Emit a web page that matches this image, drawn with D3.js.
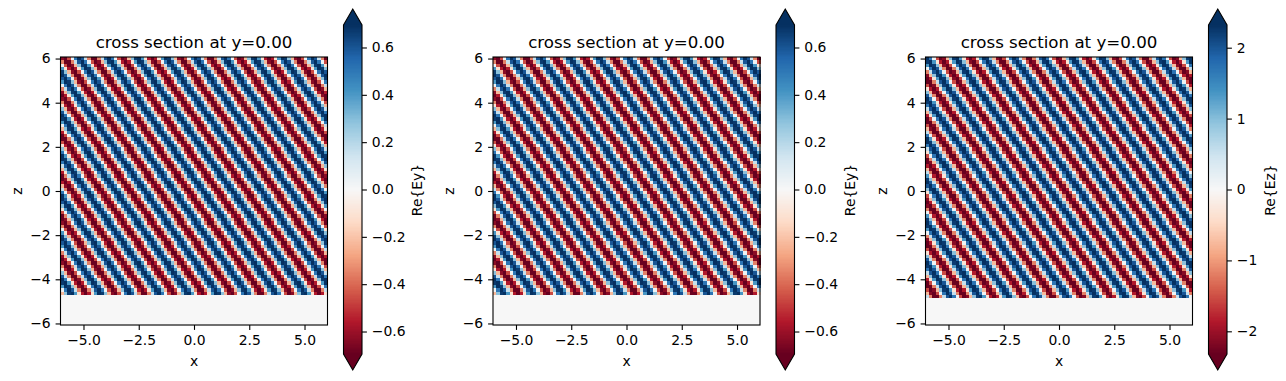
<!DOCTYPE html>
<html>
<head>
<meta charset="utf-8">
<script src="https://cdn.jsdelivr.net/npm/d3@7"></script>
<style>
  html,body{margin:0;background:#fff;}
  svg{display:block;}
  text{font-family:"DejaVu Sans",sans-serif;fill:#000;}
</style>
</head>
<body>
<div class="canvas"></div>
<script>
// values
const xTicks=[-5,-2.5,0,2.5,5];
const zTicks=[-6,-4,-2,0,2,4,6];
const eyTicks=[-0.6,-0.4,-0.2,0,0.2,0.4,0.6];
const ezTicks=[-2,-1,0,1,2];
const eyLimit=0.695;
const ezLimit=2.32;

// field across one red+blue stripe pair, crests run a bit past the colorbar limits
const eyCycle=[-0.74,-0.73,-0.69,-0.63,-0.56,-0.46,-0.35,-0.23,-0.10,0.03,0.16,0.29,0.41,0.51,0.60,0.67,0.71,0.74,0.74,0.71,0.67,0.60,0.51,0.41,0.29,0.16,0.03,-0.10,-0.23,-0.35,-0.46,-0.56,-0.63,-0.69,-0.73];
const ezCycle=[-2.47,-2.43,-2.31,-2.12,-1.86,-1.54,-1.17,-0.76,-0.33,0.11,0.55,0.97,1.36,1.71,2.00,2.23,2.38,2.46,2.46,2.38,2.23,2.00,1.71,1.36,0.97,0.55,0.11,-0.33,-0.76,-1.17,-1.54,-1.86,-2.12,-2.31,-2.43];

// where each row starts in the cycle, top row first
const eyShift=[3,6,9,12,15,18,21,23,26,29,32,35,38,41,43,46,49,52,55,58,61,63,66,69,72,75,78,81,83,86,89,92,95,98,101,103,106,109,112,115,118,121,123,126,129,132,135,138,141,143,146,149,152,155,158,161,163,166,169,172,175,178,181,183,186,189,192,195,198,201,203];
const ezShift=[17,20,23,26,29,32,35,37,40,43,46,49,52,55,57,60,63,66,69,72,75,77,80,83,86,89,92,95,97,100,103,106,109,112,115,117,120,123,126,129,132,135,137,140,143,146,149,152,155,157,160,163,166,169,172,175,177,180,183,186,189,192,195,197,200,203,206,209,212,215,217,220];

const rdbuStops=['#67001f','#b2182b','#d6604d','#f4a582','#fddbc7','#f7f7f7','#d1e5f0','#92c5de','#4393c3','#2166ac','#053061'];

const panelLefts=[60.5,493,925.5];
const panelNames=['Re{Ey}','Re{Ey}','Re{Ez}'];
const panelLimits=[eyLimit,eyLimit,ezLimit];
const panelCycles=[eyCycle,eyCycle,ezCycle];
const panelShifts=[eyShift,eyShift,ezShift];
const panelTicks=[eyTicks,eyTicks,ezTicks];

const plotW=267,plotTop=57,plotH=268;
const cbarGap=283,cbarW=18.5,cbarTop=25,cbarBottom=354,tip=16;
const labelGaps=[356.5,357,344.5];
const nCols=80,nRows=80;

const svg=d3.select('.canvas').append('svg')
  .attr('width',1286)
  .attr('height',381);

const colorAt=(limit)=>d3.scaleLinear()
  .domain(rdbuStops.map((c,i)=>-limit+2*limit*i/10))
  .range(rdbuStops)
  .clamp(true);

panelLefts.forEach((left,p)=>{
  const g=svg.append('g');
  const limit=panelLimits[p];
  const color=colorAt(limit);
  const cycle=panelCycles[p];
  const shift=panelShifts[p];

  const x=d3.scaleLinear().domain([-6.04,6.04]).range([left,left+plotW]);
  const z=d3.scaleLinear().domain([6.07,-6.07]).range([plotTop,plotTop+plotH]);
  const colBand=d3.scaleBand().domain(d3.range(nCols)).range([left,left+plotW]);
  const rowBand=d3.scaleBand().domain(d3.range(nRows)).range([plotTop,plotTop+plotH]);

  //cells, rows past the end of the shift list are the empty (zero) part
  const cells=[];
  d3.range(nRows).forEach(r=>{
    d3.range(nCols).forEach(c=>{
      const v=r<shift.length ? cycle[((4*c-shift[r])%35+35)%35] : 0;
      cells.push({r,c,v});
    });
  });
  g.append('g').attr('shape-rendering','crispEdges')
    .selectAll('rect').data(cells).join('rect')
    .attr('x',d=>colBand(d.c))
    .attr('y',d=>rowBand(d.r))
    .attr('width',colBand.bandwidth()+0.5)
    .attr('height',rowBand.bandwidth()+0.5)
    .attr('fill',d=>color(d.v));

  //frame
  g.append('rect')
    .attr('x',left).attr('y',plotTop)
    .attr('width',plotW).attr('height',plotH)
    .attr('fill','none').attr('stroke','#000').attr('stroke-width',1.1);

  //axes
  const xAxis=d3.axisBottom(x).tickValues(xTicks).tickFormat(d3.format('.1f')).tickSize(4.9).tickPadding(4.9);
  const zAxis=d3.axisLeft(z).tickValues(zTicks).tickFormat(d3.format('d')).tickSize(4.9).tickPadding(4.9);
  const xg=g.append('g').attr('transform',`translate(0,${plotTop+plotH})`).call(xAxis);
  const zg=g.append('g').attr('transform',`translate(${left},0)`).call(zAxis);
  [xg,zg].forEach(a=>{
    a.select('.domain').remove();
    a.selectAll('line').attr('stroke','#000').attr('stroke-width',1.1);
    a.selectAll('text').attr('font-size',13.9).attr('font-family','"DejaVu Sans"').attr('fill','#000');
  });

  g.append('text').attr('x',left+plotW/2).attr('y',48)
    .attr('text-anchor','middle').attr('font-size',16.67)
    .text('cross section at y=0.00');
  g.append('text').attr('x',left+plotW/2).attr('y',366)
    .attr('text-anchor','middle').attr('font-size',13.9).text('x');
  g.append('text')
    .attr('transform',`translate(${left-39},${plotTop+plotH/2}) rotate(-90)`)
    .attr('text-anchor','middle').attr('font-size',13.9).text('z');

  //colorbar
  const cx=left+cbarGap;
  const cbar=d3.scaleLinear().domain([-limit,limit]).range([cbarBottom,cbarTop]);
  const levels=d3.range(256).map(i=>-limit+2*limit*(i+0.5)/256);
  const levelH=(cbarBottom-cbarTop)/256;
  g.append('g').attr('shape-rendering','crispEdges')
    .selectAll('rect').data(levels).join('rect')
    .attr('x',cx).attr('width',cbarW)
    .attr('y',d=>cbar(d)-levelH/2-0.25)
    .attr('height',levelH+0.5)
    .attr('fill',d=>color(d));
  const topTip=[[cx,cbarTop],[cx+cbarW/2,cbarTop-tip],[cx+cbarW,cbarTop]];
  const botTip=[[cx,cbarBottom],[cx+cbarW/2,cbarBottom+tip],[cx+cbarW,cbarBottom]];
  const line=d3.line();
  g.append('path').attr('d',line(topTip)+'Z').attr('fill',rdbuStops[10]);
  g.append('path').attr('d',line(botTip)+'Z').attr('fill',rdbuStops[0]);
  g.append('path')
    .attr('d',line([[cx,cbarTop],[cx+cbarW/2,cbarTop-tip],[cx+cbarW,cbarTop],[cx+cbarW,cbarBottom],[cx+cbarW/2,cbarBottom+tip],[cx,cbarBottom]])+'Z')
    .attr('fill','none').attr('stroke','#000').attr('stroke-width',1.1);

  const cAxis=d3.axisRight(cbar).tickValues(panelTicks[p])
    .tickFormat(p===2?d3.format('d'):d3.format('.1f')).tickSize(4.9).tickPadding(4.9);
  const cg=g.append('g').attr('transform',`translate(${cx+cbarW},0)`).call(cAxis);
  cg.select('.domain').remove();
  cg.selectAll('line').attr('stroke','#000').attr('stroke-width',1.1);
  cg.selectAll('text').attr('font-size',13.9).attr('font-family','"DejaVu Sans"').attr('fill','#000');

  g.append('text')
    .attr('transform',`translate(${left+labelGaps[p]+4.5},190) rotate(-90)`)
    .attr('text-anchor','middle').attr('font-size',13.9).text(panelNames[p]);
});
</script>
</body>
</html>
